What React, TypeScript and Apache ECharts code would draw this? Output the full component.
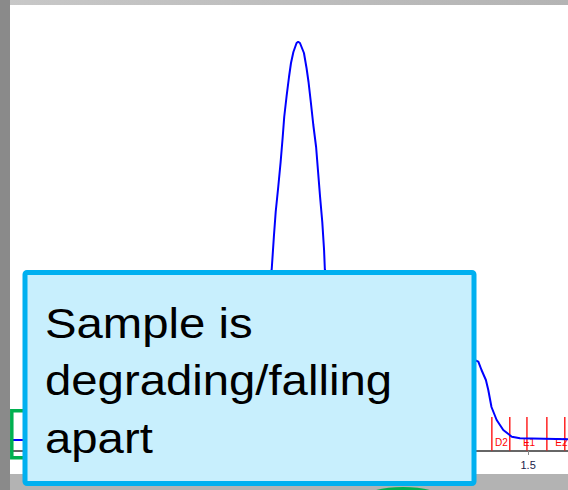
import React, { useEffect, useRef } from "react";
import * as echarts from "echarts";

// Chromatogram trace (x in axis units, y = signal)
const traceX = [0.2, 0.5, 0.7, 0.772, 0.802, 0.832, 0.847, 0.8565, 0.862, 0.8666, 0.873, 0.879, 0.884, 0.888, 0.894, 0.9, 0.905, 0.911, 0.919, 0.923, 0.9275, 0.9375, 0.944, 0.949, 0.955, 0.961, 0.968, 0.973, 0.978, 0.9835, 0.988, 0.99, 1.003, 1.023, 1.053, 1.128, 1.229, 1.304, 1.354, 1.375, 1.383, 1.394, 1.4, 1.408, 1.421, 1.4376, 1.459, 1.4795, 1.6];
const traceY = [0, 0, 0.5, 2, 20, 80, 140, 170, 203, 228, 253, 278, 302, 323, 344, 363, 377, 388, 397, 398.3, 397, 387, 372, 358, 337, 315, 293, 268, 243, 218, 190, 170, 130, 105, 95, 92, 88, 85, 82, 78.3, 70, 60, 50, 33, 20, 10, 3.3, 1.7, 0.7];

// Fraction markers
const fractionEdges = [1.409, 1.454, 1.497, 1.547, 1.592];
const fractionLabelX = [1.417, 1.487, 1.568];
const fractionLabels = ["D2", "E1", "E2"];

// Axis ticks
const tickValues = [1.5];
const tickLabels = ["1.5"];

const calloutLines = ["Sample is", "degrading/falling", "apart"];

export default function App() {
  const ref = useRef<HTMLDivElement>(null);
  useEffect(() => {
    document.body.style.margin = "0";
    const chart = echarts.init(ref.current!, null, { renderer: "svg" });
    const lineData = traceX.map((x, i) => [x, traceY[i]]);
    const yMin = -11;
    const fracTop = 23;
    chart.setOption({
      animation: false,
      backgroundColor: "#ffffff",
      grid: { left: 10, right: 0, top: 5, bottom: 39 },
      xAxis: {
        type: "value",
        min: 0.2,
        max: 1.6,
        axisLine: { show: true, onZero: false, lineStyle: { color: "#333333", width: 1.5 } },
        axisTick: { show: true, customValues: tickValues, length: 4, lineStyle: { color: "#888888", width: 1 } },
        axisLabel: {
          show: true,
          customValues: tickValues,
          margin: 8,
          fontSize: 11,
          color: "#1a1a4a",
          fontFamily: "Liberation Sans",
          formatter: (v: number) => tickLabels[tickValues.indexOf(v)] ?? String(v),
        },
        splitLine: { show: false },
      },
      yAxis: {
        type: "value",
        min: yMin,
        max: 435,
        show: false,
        splitLine: { show: false },
      },
      series: [
        {
          type: "custom",
          z: 3,
          data: fractionEdges.map((x) => [x, fracTop]),
          renderItem: (params: any, api: any) => {
            const x = api.value(0);
            const top = api.coord([x, api.value(1)]);
            const bottom = api.coord([x, yMin + 0.5]);
            return {
              type: "line",
              shape: { x1: top[0], y1: top[1], x2: bottom[0], y2: bottom[1] },
              style: { stroke: "#ff0000", lineWidth: 1.3 },
            };
          },
        },
        {
          type: "custom",
          z: 3,
          data: fractionLabelX.map((x, i) => ({ value: [x, -2], name: fractionLabels[i] })),
          renderItem: (params: any, api: any) => {
            const p = api.coord([api.value(0), api.value(1)]);
            return {
              type: "text",
              style: {
                x: p[0],
                y: p[1],
                text: fractionLabels[params.dataIndex],
                fill: "#ff0000",
                font: "10px 'Liberation Sans'",
                align: "left",
                verticalAlign: "middle",
              },
            };
          },
        },
        {
          type: "line",
          z: 4,
          data: lineData,
          symbol: "none",
          lineStyle: { color: "#0000ff", width: 2 },
        },
      ],
      graphic: [
        { type: "rect", z: 100, shape: { x: 0, y: 0, width: 568, height: 5 },
          style: { fill: new echarts.graphic.LinearGradient(0, 0, 1, 0, [{ offset: 0, color: "#c8c8c8" }, { offset: 1, color: "#b4b4b4" }]) } },
        { type: "rect", z: 100, shape: { x: 0, y: 474, width: 568, height: 16 },
          style: { fill: "#b3b3b3" } },
        { type: "rect", z: 101, shape: { x: 0, y: 0, width: 10, height: 490 },
          style: { fill: "#8a8a8a" } },
        { type: "ellipse", z: 101, shape: { cx: 403, cy: 500, rx: 42, ry: 13 },
          style: { fill: "#00b050" } },
        { type: "rect", z: 102, shape: { x: 11.8, y: 410.8, width: 20, height: 47 },
          style: { fill: "none", stroke: "#00b050", lineWidth: 3.5 } },
        { type: "rect", z: 110, shape: { x: 25, y: 272.5, width: 449, height: 211, r: 2 },
          style: { fill: "#c8effd", stroke: "#00b0f0", lineWidth: 5 } },
        ...calloutLines.map((t, i) => ({
          type: "text",
          z: 111,
          x: 45,
          y: 323 + i * 57.5,
          scaleX: 1.1,
          style: {
            text: t,
            fill: "#000000",
            font: "43px 'Liberation Sans'",
            align: "left",
            verticalAlign: "middle",
          },
        })),
      ],
    });
    return () => chart.dispose();
  }, []);
  return <div ref={ref} style={{ position: "absolute", left: 0, top: 0, width: 568, height: 490 }} />;
}
